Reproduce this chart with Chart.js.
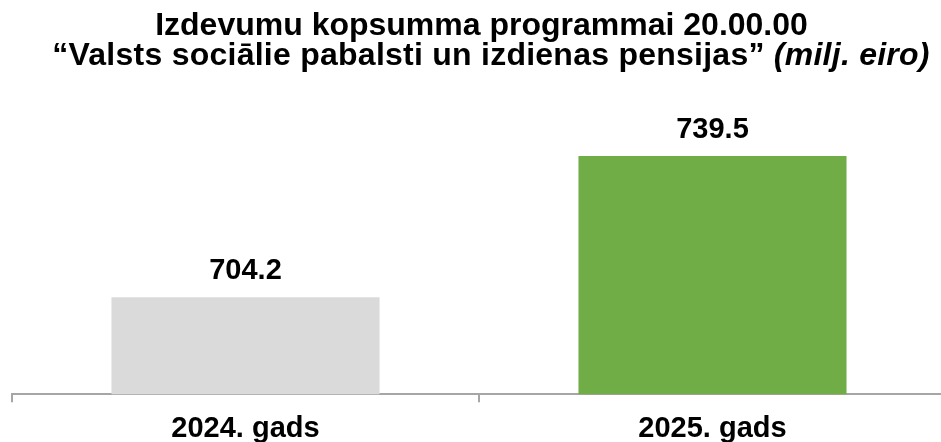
<!DOCTYPE html>
<html>
<head>
<meta charset="utf-8">
<script src="https://cdn.jsdelivr.net/npm/chart.js@4/dist/chart.umd.min.js"></script>
<style>
  html, body { margin:0; padding:0; background:#fff; overflow:hidden; width:941px; height:442px; }
  #wrap { position:absolute; left:0; top:0; width:960px; height:455px; }
  .t { position:absolute; white-space:nowrap; text-align:center; font-family:"Liberation Sans", Arial, sans-serif; font-weight:bold; font-size:32px; line-height:30px; color:#000; }
  .t i { font-style:italic; }
</style>
</head>
<body>
<div id="wrap"><canvas id="c" width="960" height="455"></canvas></div>
<div class="t" id="t1" style="left:0; width:963px; top:9px;">Izdevumu kopsumma programmai 20.00.00</div>
<div class="t" id="t2" style="left:0; width:982px; top:39px; letter-spacing:0.25px;">“Valsts sociālie pabalsti un izdienas pensijas” <i>(milj. eiro)</i></div>
<script>
const categories = ["2024. gads", "2025. gads"];
const values = [704.2, 739.5];
const barColors = ["#DBDADA", "#70AD47"];
const yMin = 680;
const yMax = 750;

const FONT = '"Liberation Sans", Arial, sans-serif';

const valueLabels = {
  id: 'valueLabels',
  afterDatasetsDraw(chart) {
    const ctx = chart.ctx;
    const meta = chart.getDatasetMeta(0);
    ctx.save();
    ctx.font = 'bold 29px ' + FONT;
    ctx.fillStyle = '#000';
    ctx.textAlign = 'center';
    ctx.textBaseline = 'alphabetic';
    meta.data.forEach((el, i) => {
      ctx.fillText(values[i].toFixed(1), el.x, el.y - 18);
    });
    ctx.restore();
  }
};

new Chart(document.getElementById('c'), {
  type: 'bar',
  data: {
    labels: categories,
    datasets: [{
      data: values,
      backgroundColor: barColors,
      borderWidth: 0,
      barPercentage: 0.574,
      categoryPercentage: 1.0
    }]
  },
  options: {
    responsive: false,
    animation: false,
    layout: { padding: { left: 12, right: 14, top: 114, bottom: 0 } },
    plugins: { legend: { display: false }, tooltip: { enabled: false }, title: { display: false } },
    scales: {
      x: {
        grid: { display: true, drawOnChartArea: false, drawTicks: true, tickLength: 8, color: '#A6A6A6', lineWidth: 2, offset: true },
        border: { display: true, color: '#A6A6A6', width: 2 },
        ticks: { color: '#000', padding: 9, font: { family: FONT, size: 29, weight: 'bold', lineHeight: 1.2 } }
      },
      y: {
        display: false,
        min: yMin,
        max: yMax
      }
    }
  },
  plugins: [valueLabels]
});
</script>
</body>
</html>
